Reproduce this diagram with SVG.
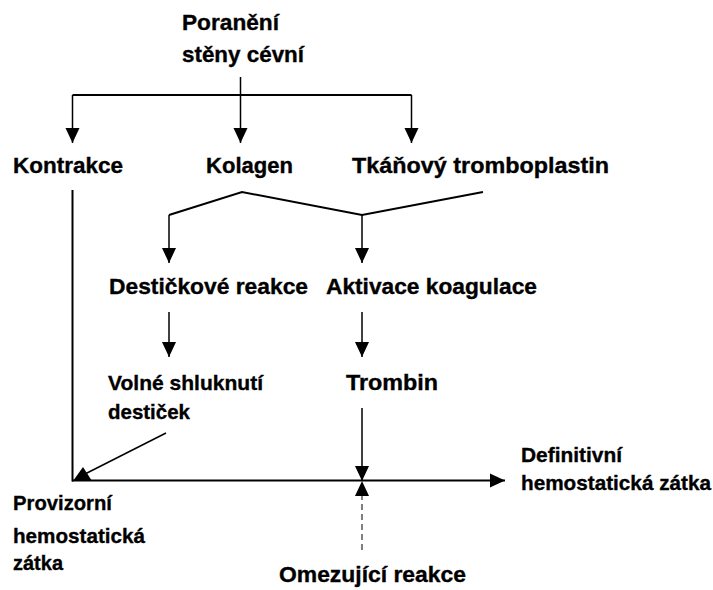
<svg xmlns="http://www.w3.org/2000/svg" width="713" height="590" viewBox="0 0 713 590">
  <style>
    text { font-family: "Liberation Sans", Arial, sans-serif; font-weight: bold; fill: #000; stroke: #000; stroke-width: 0.35; }
    .big { font-size: 22px; }
    .sm { font-size: 21px; }
    .ln { fill: none; stroke: #000; stroke-width: 1.5; }
    .thick { fill: none; stroke: #000; stroke-width: 2; }
    .dash { fill: none; stroke: #555; stroke-width: 1.5; stroke-dasharray: 6 4; }
  </style>
  <defs>
    <marker id="arr" markerUnits="userSpaceOnUse" markerWidth="15" markerHeight="15" refX="15" refY="7.5" orient="auto" viewBox="0 0 15 15">
      <path d="M0,0.5 L15,7.5 L0,14.5 Z" fill="#000"/>
    </marker>
  </defs>
  <rect x="0" y="0" width="713" height="590" fill="#fff"/>

  <g id="connectors">
    <line class="ln" x1="240.5" y1="77" x2="240.5" y2="143" marker-end="url(#arr)"/>
    <path class="thick" d="M72.5,95 H411.5"/>
    <line class="ln" x1="72.5" y1="95" x2="72.5" y2="143" marker-end="url(#arr)"/>
    <line class="ln" x1="411.5" y1="95" x2="411.5" y2="143" marker-end="url(#arr)"/>
    <polyline class="thick" points="169,215 242,192 362,215 483,192"/>
    <line class="ln" x1="169" y1="215" x2="169" y2="263" marker-end="url(#arr)"/>
    <line class="ln" x1="362" y1="215" x2="362" y2="263" marker-end="url(#arr)"/>
    <line class="ln" x1="169" y1="312" x2="169" y2="357" marker-end="url(#arr)"/>
    <line class="ln" x1="362" y1="312" x2="362" y2="357" marker-end="url(#arr)"/>
    <line class="thick" x1="72.5" y1="190" x2="72.5" y2="481.5"/>
    <line class="thick" x1="72" y1="480.5" x2="505" y2="480.5" marker-end="url(#arr)"/>
    <line class="ln" x1="362" y1="408" x2="362" y2="481" marker-end="url(#arr)"/>
    <line class="dash" x1="362" y1="550" x2="362" y2="481" marker-end="url(#arr)"/>
    <line class="ln" x1="166" y1="433" x2="85" y2="474"/>
    <polygon points="73,481 83,467 92,481" fill="#000"/>
  </g>

  <g id="node-poraneni">
    <text class="big" x="182" y="30" textLength="97" lengthAdjust="spacingAndGlyphs">Poranění</text>
    <text class="big" x="182" y="62" textLength="122" lengthAdjust="spacingAndGlyphs">stěny cévní</text>
  </g>
  <g id="node-kontrakce">
    <text class="big" x="13" y="173" textLength="110" lengthAdjust="spacingAndGlyphs">Kontrakce</text>
  </g>
  <g id="node-kolagen">
    <text class="big" x="206" y="173" textLength="87" lengthAdjust="spacingAndGlyphs">Kolagen</text>
  </g>
  <g id="node-tromboplastin">
    <text class="big" x="352" y="173" textLength="257" lengthAdjust="spacingAndGlyphs">Tkáňový tromboplastin</text>
  </g>
  <g id="node-desticky">
    <text class="big" x="109" y="294" textLength="199" lengthAdjust="spacingAndGlyphs">Destičkové reakce</text>
  </g>
  <g id="node-koagulace">
    <text class="big" x="326" y="294" textLength="211" lengthAdjust="spacingAndGlyphs">Aktivace koagulace</text>
  </g>
  <g id="node-shluknuti">
    <text class="sm" x="108" y="390" textLength="155" lengthAdjust="spacingAndGlyphs">Volné shluknutí</text>
    <text class="sm" x="108" y="419" textLength="82" lengthAdjust="spacingAndGlyphs">destiček</text>
  </g>
  <g id="node-trombin">
    <text class="big" x="346" y="390" textLength="92" lengthAdjust="spacingAndGlyphs">Trombin</text>
  </g>
  <g id="node-provizorni">
    <text class="sm" x="13" y="510" textLength="99" lengthAdjust="spacingAndGlyphs">Provizorní</text>
    <text class="sm" x="13" y="543" textLength="132" lengthAdjust="spacingAndGlyphs">hemostatická</text>
    <text class="sm" x="13" y="570" textLength="50" lengthAdjust="spacingAndGlyphs">zátka</text>
  </g>
  <g id="node-definitivni">
    <text class="sm" x="521" y="462" textLength="101" lengthAdjust="spacingAndGlyphs">Definitivní</text>
    <text class="sm" x="521" y="490" textLength="190" lengthAdjust="spacingAndGlyphs">hemostatická zátka</text>
  </g>
  <g id="node-omezujici">
    <text class="big" x="279" y="582" textLength="187" lengthAdjust="spacingAndGlyphs">Omezující reakce</text>
  </g>
</svg>
